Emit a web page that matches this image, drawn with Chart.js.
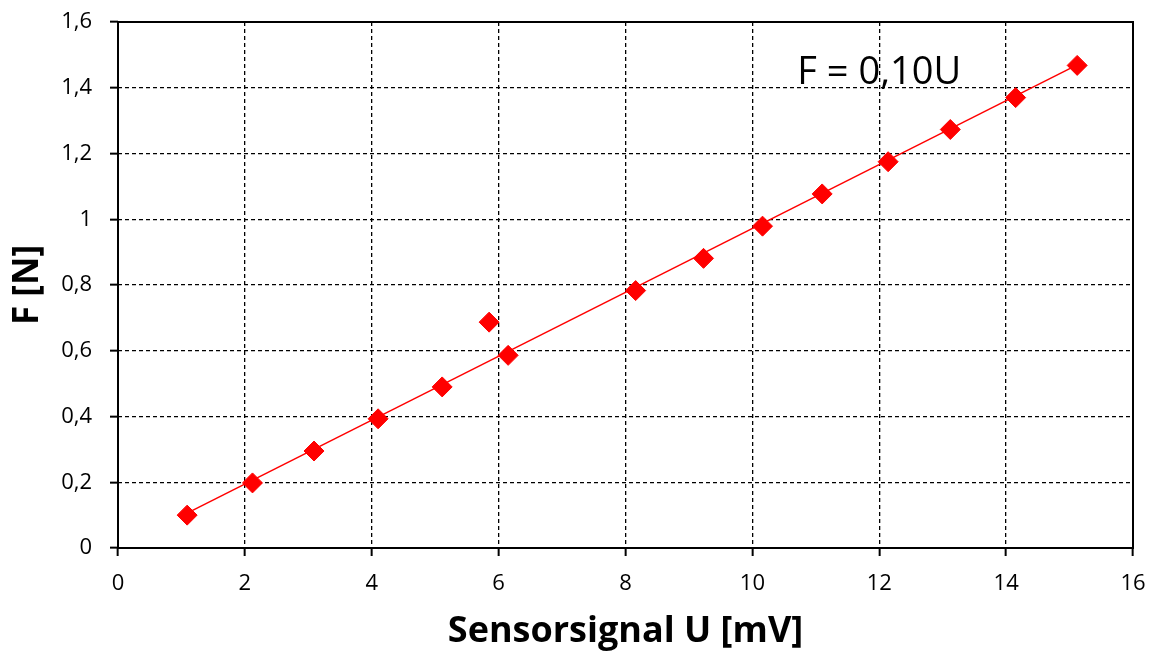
<!DOCTYPE html>
<html>
<head>
<meta charset="utf-8">
<script src="https://cdn.jsdelivr.net/npm/chart.js@4/dist/chart.umd.min.js"></script>
<style>
  html, body { margin: 0; padding: 0; background: #fff; }
  #wrap { width: 1153px; height: 653px; }
</style>
</head>
<body>
<div id="wrap"><canvas id="forceChart"></canvas></div>
<script>
/* ------------------------------------------- */
/* DATA -------------------------------------- */
/* ------------------------------------------- */
let signalU = [1.09, 2.12, 3.09, 4.10, 5.11, 5.85, 6.15, 8.16, 9.23, 10.16, 11.10, 12.14, 13.12, 14.15, 15.12];
let forceF  = [0.100, 0.198, 0.295, 0.393, 0.490, 0.687, 0.586, 0.783, 0.881, 0.979, 1.077, 1.175, 1.273, 1.370, 1.468];
let xTicks = [0, 2, 4, 6, 8, 10, 12, 14, 16];
let yTicks = [0, 0.2, 0.4, 0.6, 0.8, 1, 1.2, 1.4, 1.6];
let fitLabel = "F = 0,10U";
let fitLabelAt = [12.0, 1.41];

let fontFamily = "'Open Sans', 'Liberation Sans', sans-serif";

/* trend line through the origin (least squares) */
let sxy = 0, sxx = 0;
signalU.forEach((u, i) => { sxy += u * forceF[i]; sxx += u * u; });
let slope = sxy / sxx;
let uMin = Math.min(...signalU);
let uMax = Math.max(...signalU);
let trend = [{x: uMin, y: slope * uMin}, {x: uMax, y: slope * uMax}];

let points = signalU.map((u, i) => ({x: u, y: forceF[i]}));

function comma(v) {
  return String(Number(v.toFixed(1))).replace('.', ',');
}

/* ------------------------------------------- */
/* PLUGINS ----------------------------------- */
/* ------------------------------------------- */
// solid frame round the plot area (grid lines are dashed)
let frame = {
  id: 'frame',
  afterDatasetsDraw(chart) {
    let a = chart.chartArea;
    let ctx = chart.ctx;
    ctx.save();
    ctx.strokeStyle = '#000';
    ctx.lineWidth = 2;
    ctx.setLineDash([]);
    ctx.strokeRect(a.left, a.top, a.right - a.left, a.bottom - a.top);
    ctx.restore();
  }
};

let fitText = {
  id: 'fitText',
  afterDatasetsDraw(chart) {
    let ctx = chart.ctx;
    let x = chart.scales.x.getPixelForValue(fitLabelAt[0]);
    let y = chart.scales.y.getPixelForValue(fitLabelAt[1]);
    ctx.save();
    ctx.font = "38px " + fontFamily;
    ctx.fillStyle = '#000';
    ctx.textAlign = 'center';
    ctx.textBaseline = 'alphabetic';
    ctx.fillText(fitLabel, x, y);
    ctx.restore();
  }
};

let gridOpts = {
  color: '#000',
  lineWidth: 1.3,
  tickLength: 8,
  tickColor: '#000',
  tickWidth: 2,
  tickBorderDash: []
};

/* ------------------------------------------- */
/* CHART ------------------------------------- */
/* ------------------------------------------- */
let ctx = document.getElementById('forceChart').getContext('2d');
let forceChart = new Chart(ctx, {
  type: 'scatter',
  data: {
    datasets: [{
      label: 'Messwerte',
      data: points,
      pointStyle: 'rectRot',
      pointRadius: 10,
      pointHoverRadius: 10,
      backgroundColor: '#ff0000',
      borderColor: '#ff0000',
      borderWidth: 1,
      order: 1
    }, {
      type: 'line',
      label: 'Trend',
      data: trend,
      borderColor: '#ff0000',
      borderWidth: 1.5,
      pointRadius: 0,
      fill: false,
      order: 2
    }]
  },
  options: {
    responsive: true,
    maintainAspectRatio: false,
    animation: false,
    layout: { padding: { top: 22, right: 20, left: 0, bottom: 0 } },
    plugins: {
      legend: { display: false },
      tooltip: { enabled: false }
    },
    scales: {
      x: {
        type: 'linear',
        min: 0,
        max: 16,
        afterBuildTicks: (s) => { s.ticks = xTicks.map(v => ({value: v})); },
        afterFit: (s) => { s.height = 105; s.paddingLeft = 0; s.paddingRight = 0; },
        ticks: {
          color: '#000',
          font: { family: fontFamily, size: 22 },
          padding: 15,
          maxRotation: 0
        },
        grid: gridOpts,
        border: { display: false, dash: [4, 3] },
        title: {
          display: true,
          text: 'Sensorsignal U [mV]',
          color: '#000',
          font: { family: fontFamily, size: 36, weight: 'bold' },
          padding: { top: 0, bottom: 0 }
        }
      },
      y: {
        type: 'linear',
        min: 0,
        max: 1.6,
        afterBuildTicks: (s) => { s.ticks = yTicks.map(v => ({value: v})); },
        afterFit: (s) => { s.width = 118; s.paddingTop = 0; s.paddingBottom = 0; },
        ticks: {
          color: '#000',
          font: { family: fontFamily, size: 22 },
          padding: 18,
          callback: (v) => comma(v)
        },
        grid: gridOpts,
        border: { display: false, dash: [4, 3] },
        title: {
          display: true,
          text: 'F [N]',
          color: '#000',
          font: { family: fontFamily, size: 35, weight: 'bold' },
          padding: { top: 7, bottom: 0 }
        }
      }
    }
  },
  plugins: [frame, fitText]
});
</script>
</body>
</html>
